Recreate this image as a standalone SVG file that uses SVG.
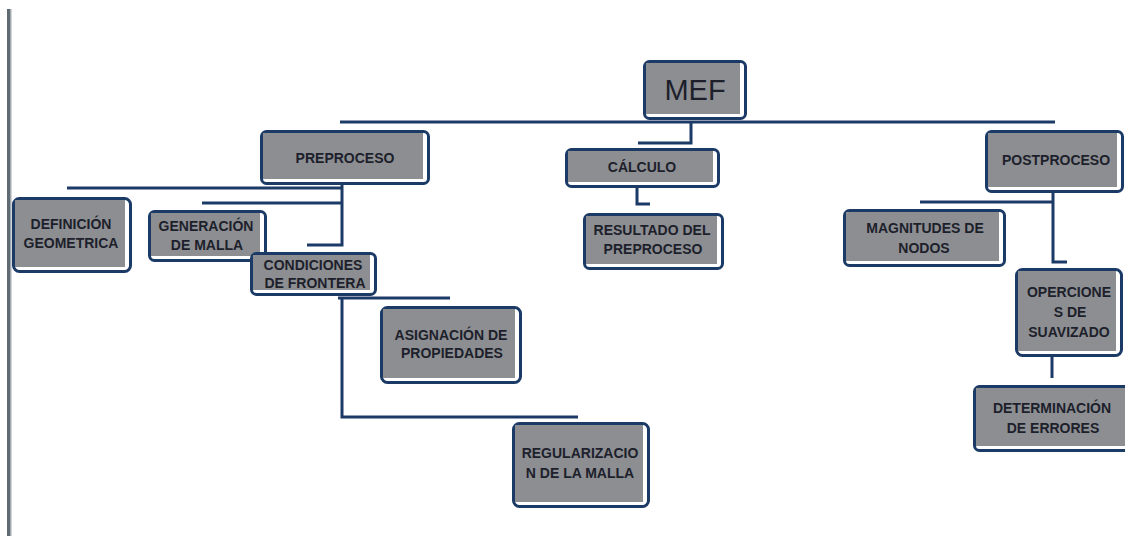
<svg xmlns="http://www.w3.org/2000/svg" width="1125" height="536" viewBox="0 0 1125 536">
  <style>
    .frame { fill: #ffffff; stroke: #1c3a66; stroke-width: 3; }
    .fill { fill: #8c8e92; }
    .lbl { font-family: "Liberation Sans", Arial, sans-serif; font-weight: 700; font-size: 14px; fill: #1d1f2b; text-anchor: middle; }
    .big { font-family: "Liberation Sans", Arial, sans-serif; font-size: 29px; fill: #1d1f2b; text-anchor: middle; }
    .wire { fill: none; stroke: #1c3a66; stroke-width: 3; stroke-linecap: butt; }
  </style>

  <!-- page margin rule -->
  <rect x="7" y="9" width="3" height="527" fill="#5f6b72"/>
  <rect x="10" y="9" width="1.5" height="527" fill="#a3abb0"/>

  <!-- connectors -->
  <g id="connectors">
    <path class="wire" d="M340 122 H1055"/>
    <path class="wire" d="M691 122 V143 H638"/>
    <path class="wire" d="M637 188 V204 H650"/>
    <path class="wire" d="M67 188 H343"/>
    <path class="wire" d="M202 203 H342"/>
    <path class="wire" d="M342 185 V245 H307"/>
    <path class="wire" d="M338 298 H450"/>
    <path class="wire" d="M342 298 V417 H578"/>
    <path class="wire" d="M920 202 H1053"/>
    <path class="wire" d="M1053 193 V262 H1067"/>
    <path class="wire" d="M1052 357 V378"/>
  </g>

  <!-- nodes -->
  <g id="mef">
    <rect class="frame" x="644.5" y="61.5" width="101" height="57" rx="5"/>
    <rect class="fill" x="646" y="63" width="94" height="51"/>
    <text class="big" x="695" y="100">MEF</text>
  </g>

  <g id="preproceso">
    <rect class="frame" x="261.5" y="131.5" width="167" height="52" rx="5"/>
    <rect class="fill" x="263" y="133" width="160" height="46"/>
    <text class="lbl" x="345" y="163">PREPROCESO</text>
  </g>

  <g id="calculo">
    <rect class="frame" x="566.5" y="149.5" width="152" height="37" rx="5"/>
    <rect class="fill" x="568" y="151" width="145" height="31"/>
    <text class="lbl" x="642" y="172">CÁLCULO</text>
  </g>

  <g id="postproceso">
    <rect class="frame" x="986.5" y="131.5" width="136" height="60" rx="5"/>
    <rect class="fill" x="988" y="133" width="129" height="54"/>
    <text class="lbl" x="1056" y="165">POSTPROCESO</text>
  </g>

  <g id="definicion">
    <rect class="frame" x="13.5" y="198.5" width="117" height="73" rx="6"/>
    <rect class="fill" x="15" y="200" width="110" height="67"/>
    <text class="lbl" x="71" y="229">DEFINICIÓN</text>
    <text class="lbl" x="71" y="248">GEOMETRICA</text>
  </g>

  <g id="generacion">
    <rect class="frame" x="149.5" y="211.5" width="116" height="49" rx="5"/>
    <rect class="fill" x="151" y="213" width="109" height="43"/>
    <text class="lbl" x="206" y="231">GENERACIÓN</text>
    <text class="lbl" x="207" y="250">DE MALLA</text>
  </g>

  <g id="condiciones">
    <rect class="frame" x="251.5" y="253.5" width="124" height="41" rx="5"/>
    <rect class="fill" x="253" y="255" width="117" height="35"/>
    <text class="lbl" x="313" y="270">CONDICIONES</text>
    <text class="lbl" x="315" y="288">DE FRONTERA</text>
  </g>

  <g id="resultado">
    <rect class="frame" x="584.5" y="214.5" width="138" height="54" rx="5"/>
    <rect class="fill" x="586" y="216" width="131" height="48"/>
    <text class="lbl" x="652" y="235">RESULTADO DEL</text>
    <text class="lbl" x="653" y="254">PREPROCESO</text>
  </g>

  <g id="magnitudes">
    <rect class="frame" x="844.5" y="210.5" width="160" height="55" rx="5"/>
    <rect class="fill" x="846" y="212" width="153" height="49"/>
    <text class="lbl" x="925" y="233">MAGNITUDES DE</text>
    <text class="lbl" x="924" y="253">NODOS</text>
  </g>

  <g id="operciones">
    <rect class="frame" x="1016.5" y="269.5" width="105" height="86" rx="6"/>
    <rect class="fill" x="1018" y="271" width="98" height="80"/>
    <text class="lbl" x="1069" y="297">OPERCIONE</text>
    <text class="lbl" x="1070" y="317">S DE</text>
    <text class="lbl" x="1069" y="337">SUAVIZADO</text>
  </g>

  <g id="asignacion">
    <rect class="frame" x="381.5" y="307.5" width="139" height="75" rx="6"/>
    <rect class="fill" x="383" y="309" width="132" height="69"/>
    <text class="lbl" x="451" y="340">ASIGNACIÓN DE</text>
    <text class="lbl" x="452" y="358">PROPIEDADES</text>
  </g>

  <g id="regularizacion">
    <rect class="frame" x="513.5" y="423.5" width="135" height="83" rx="6"/>
    <rect class="fill" x="515" y="425" width="128" height="77"/>
    <text class="lbl" x="580" y="458">REGULARIZACIO</text>
    <text class="lbl" x="580" y="478">N DE LA MALLA</text>
  </g>

  <g id="determinacion">
    <rect class="frame" x="974.5" y="386.5" width="160" height="64" rx="5"/>
    <rect class="fill" x="976" y="388" width="153" height="58"/>
    <text class="lbl" x="1052" y="413">DETERMINACIÓN</text>
    <text class="lbl" x="1053" y="433">DE ERRORES</text>
  </g>
</svg>
